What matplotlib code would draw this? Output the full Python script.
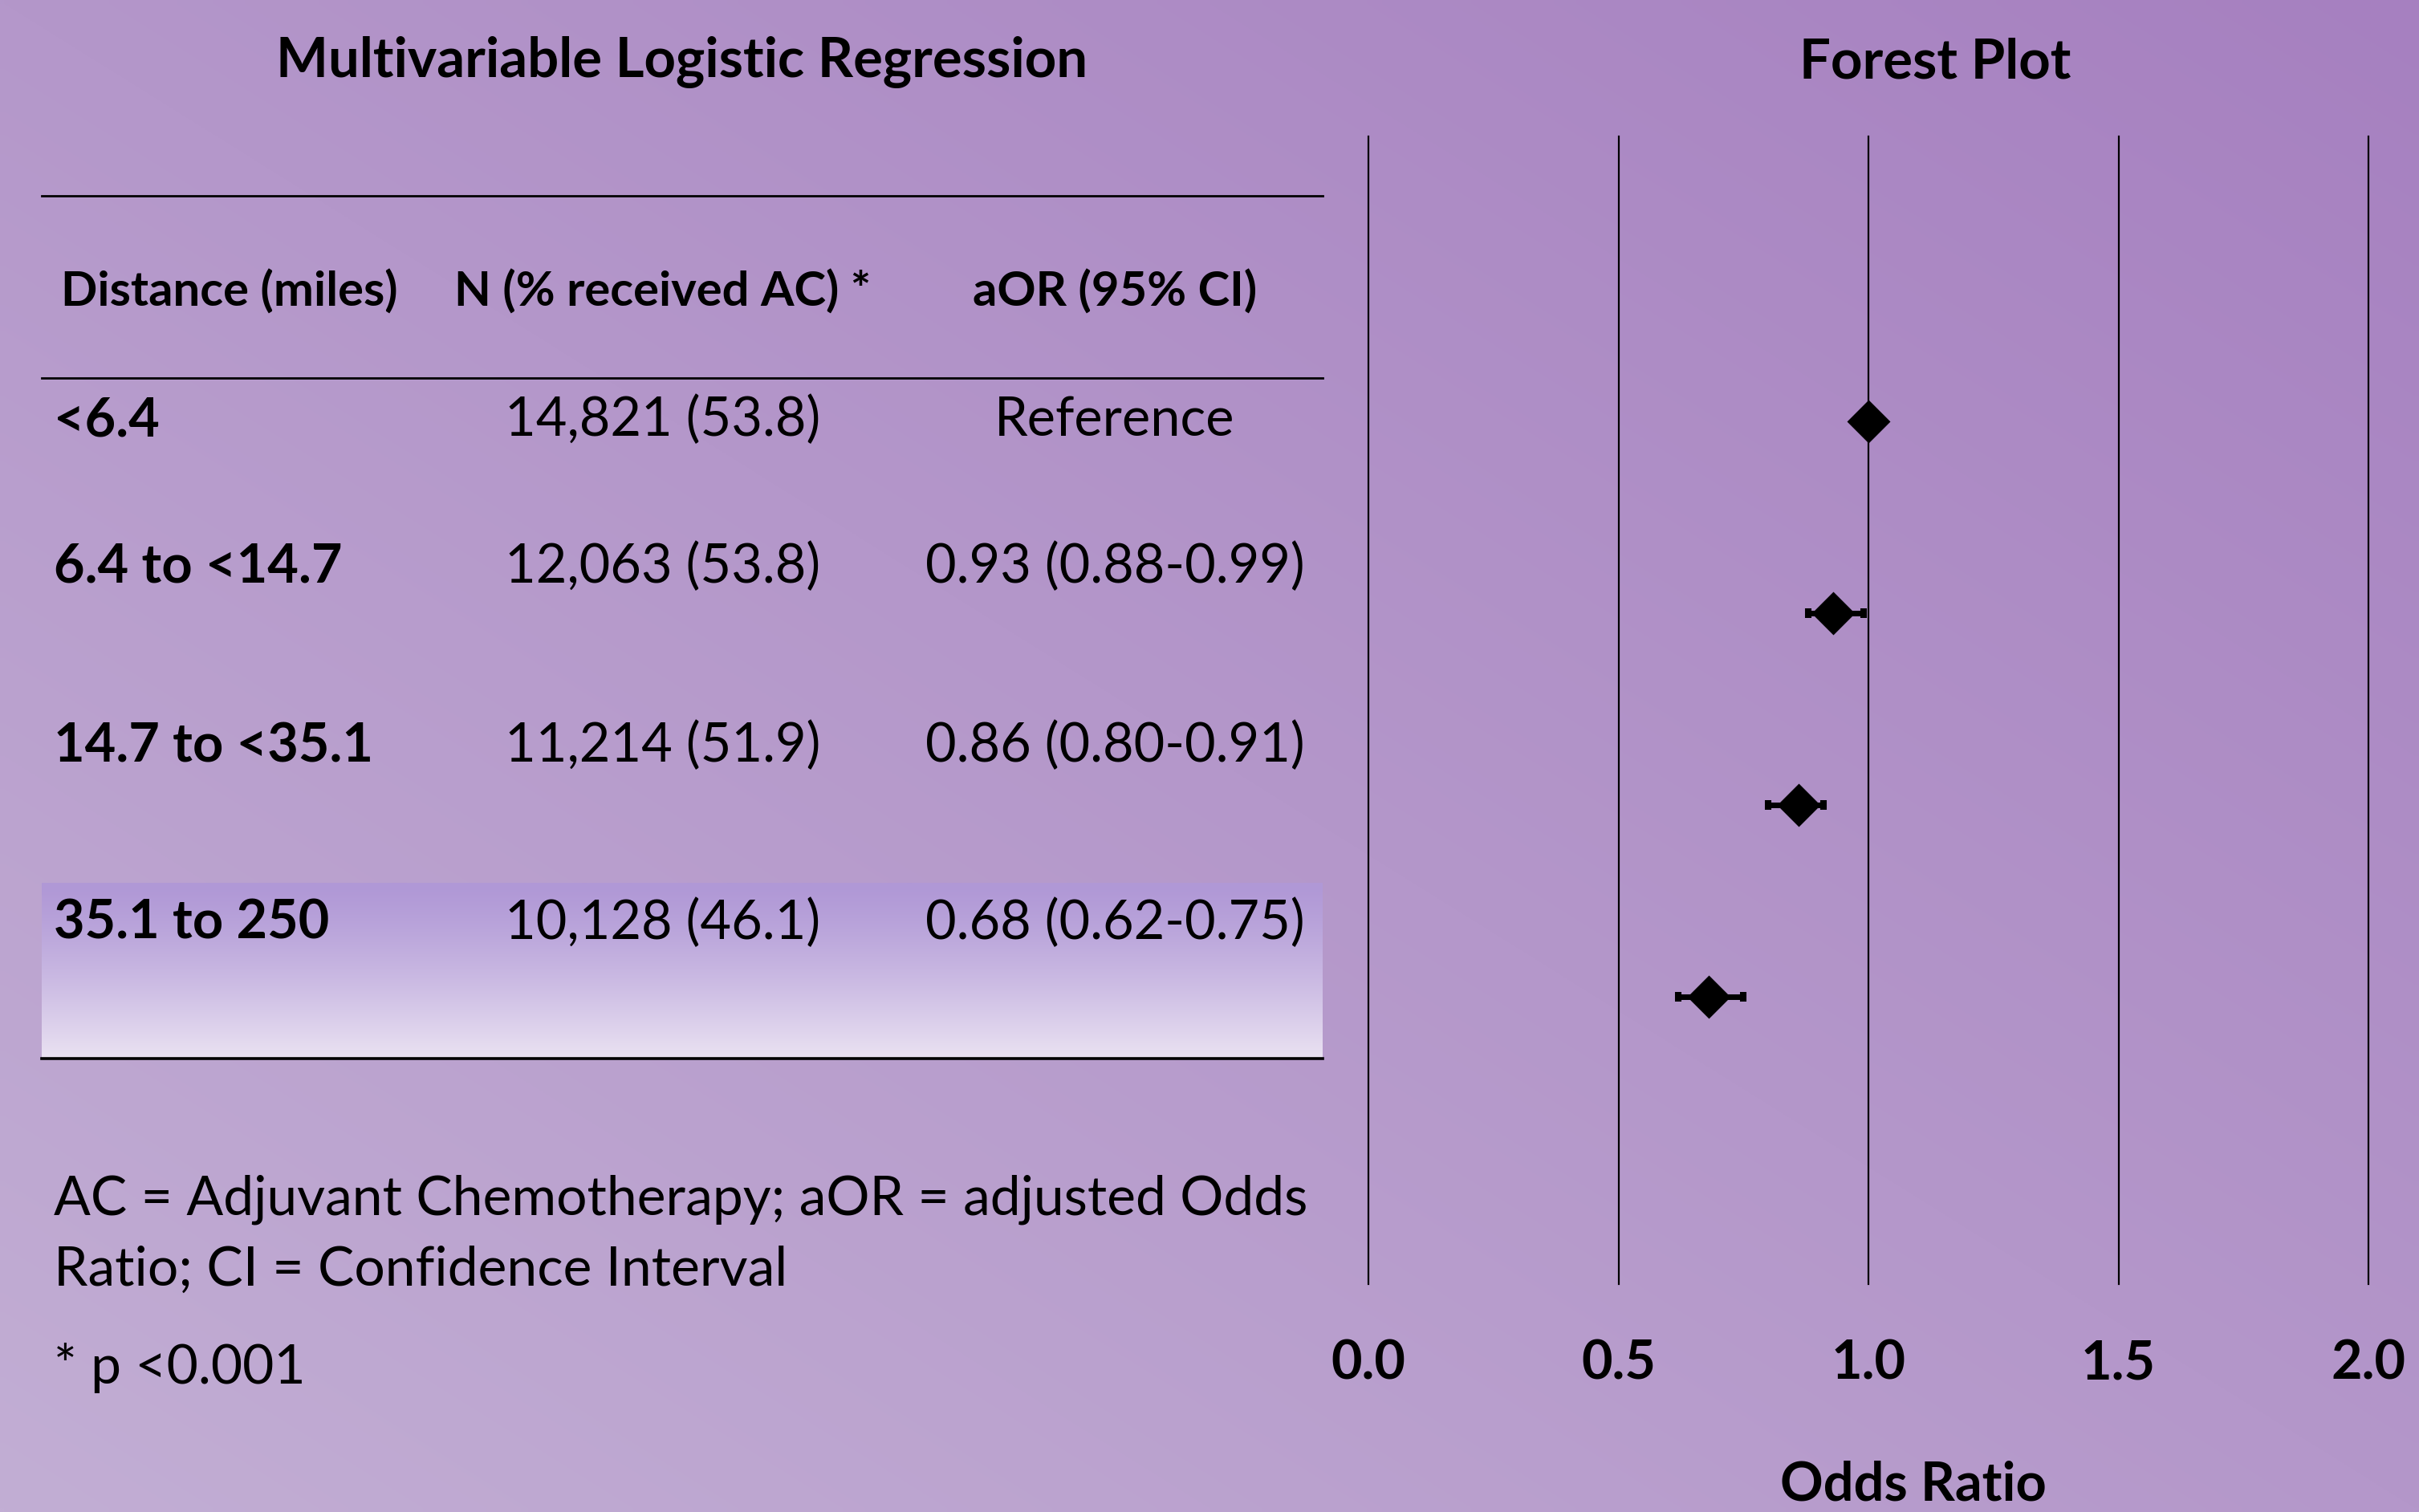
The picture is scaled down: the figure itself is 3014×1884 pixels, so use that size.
import numpy as np
import matplotlib
matplotlib.use("Agg")
import matplotlib.pyplot as plt

plt.rcParams['font.family'] = ['Lato', 'DejaVu Sans']

# data
distance = ["<6.4", "6.4 to <14.7", "14.7 to <35.1", "35.1 to 250"]
n_pat = [14821, 12063, 11214, 10128]
pct_ac = [53.8, 53.8, 51.9, 46.1]
aor = [1.00, 0.93, 0.86, 0.68]
ci_lo = [np.nan, 0.88, 0.80, 0.62]
ci_hi = [np.nan, 0.99, 0.91, 0.75]
headers = ["Distance (miles)", "N (% received AC) *", "aOR (95% CI)"]
xticks = [0.0, 0.5, 1.0, 1.5, 2.0]
notes = ["AC = Adjuvant Chemotherapy; aOR = adjusted Odds",
         "Ratio; CI = Confidence Interval",
         "* p <0.001"]

W, H = 3014, 1884
fig = plt.figure(figsize=(W / 200, H / 200), dpi=200)

# background axes in pixel coordinates
bg = fig.add_axes([0, 0, 1, 1])
u = np.linspace(0, 1, 300)[None, :]
v = np.linspace(1, 0, 200)[:, None]
t = (u + v) / 2
c0 = np.array([194, 174, 212]) / 255
c1 = np.array([166, 128, 192]) / 255
bg.imshow(c0 + (c1 - c0) * t[..., None], extent=(0, W, H, 0),
          aspect='auto', interpolation='bilinear', zorder=0)

# highlighted last row
s = np.linspace(0, 1, 100) ** 1.3
h0 = np.array([176, 152, 214]) / 255
h1 = np.array([234, 226, 242]) / 255
hl = h0 + (h1 - h0) * s[:, None, None]
bg.imshow(hl, extent=(52, 1648, 1319, 1100), aspect='auto',
          interpolation='bilinear', zorder=1)
bg.set_xlim(0, W)
bg.set_ylim(H, 0)
bg.axis('off')

# table rules
for y, lw in [(244, 1.0), (471, 1.0), (1319, 1.3)]:
    bg.plot([52, 1648], [y, y], color='black', lw=lw, zorder=2)

dy = 5  # small shift of text centres
bg.text(850, 73 + dy, "Multivariable Logistic Regression", ha='center', va='center',
        fontsize=24.8, fontweight='bold')
bg.text(2411, 73 + dy, "Forest Plot", ha='center', va='center',
        fontsize=24.8, fontweight='bold')

col_x = [286, 826, 1389]
for x, h in zip(col_x, headers):
    bg.text(x, 359 + dy, h, ha='center', va='center', fontsize=21.5, fontweight='bold')

row_y = [519, 702, 925, 1146]
for i, y in enumerate(row_y):
    bg.text(67, y + dy, distance[i], ha='left', va='center', fontsize=24,
            fontweight='bold', zorder=3)
    bg.text(col_x[1], y + dy, f"{n_pat[i]:,} ({pct_ac[i]:.1f})", ha='center',
            va='center', fontsize=24, zorder=3)
    if np.isnan(ci_lo[i]):
        txt = "Reference"
    else:
        txt = f"{aor[i]:.2f} ({ci_lo[i]:.2f}-{ci_hi[i]:.2f})"
    bg.text(col_x[2], y + dy, txt, ha='center', va='center', fontsize=24, zorder=3)

for y, note in zip([1490, 1578, 1699], notes):
    bg.text(67, y + dy, note, ha='left', va='center', fontsize=24.4)

bg.text(2384, 1845 + dy, "Odds Ratio", ha='center', va='center',
        fontsize=24, fontweight='bold')

# forest plot
ax = fig.add_axes([1705 / W, 1 - 1600 / H, (2951 - 1705) / W, (1600 - 170) / H])
ax.patch.set_alpha(0)
ypos = np.arange(len(aor))
for x in xticks:
    ax.axvline(x, color='black', lw=0.8, clip_on=False, zorder=1)

aor_a = np.array(aor)
lo = np.array(ci_lo)
hi = np.array(ci_hi)
m = ~np.isnan(lo)
ax.errorbar(aor_a[m], ypos[m], xerr=[aor_a[m] - lo[m], hi[m] - aor_a[m]],
            fmt='none', ecolor='black', elinewidth=2.5, capsize=2.2,
            capthick=2.9, zorder=2)
ax.plot(aor, ypos, 'D', color='black', ms=12.5, zorder=3)

ax.set_xlim(0, 2)
ax.set_ylim(4.498, -1.485)
ax.set_xticks(xticks)
ax.set_xticklabels([f"{x:.1f}" for x in xticks], fontsize=24, fontweight='bold')
ax.tick_params(axis='x', length=0, pad=24.5)
ax.set_yticks([])
for sp in ax.spines.values():
    sp.set_visible(False)

fig.savefig("out.png", dpi=200)
